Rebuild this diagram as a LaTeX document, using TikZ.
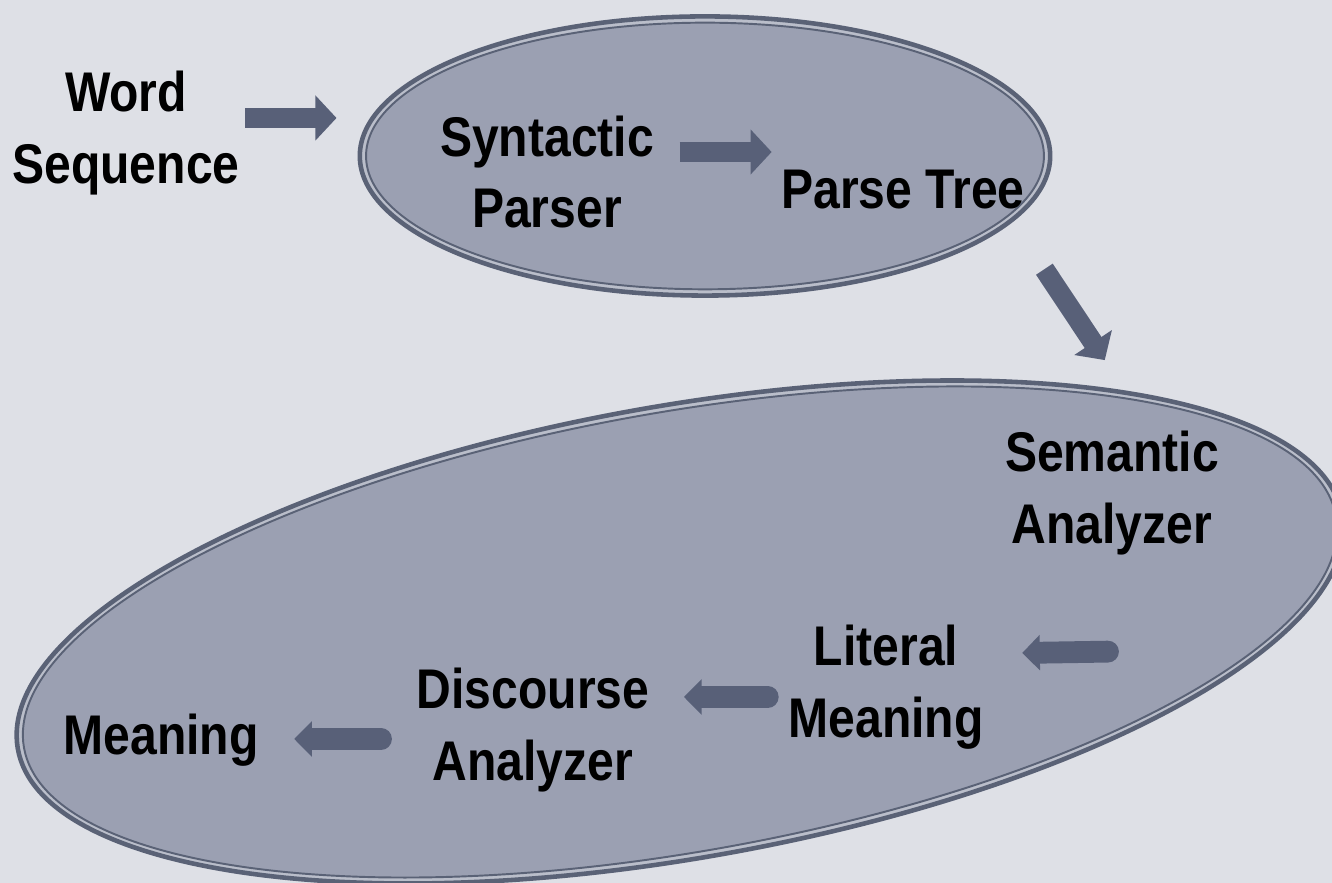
\documentclass[tikz,border=0pt]{standalone}
\usepackage{fontspec}
\setmainfont{Liberation Sans}[FakeStretch=0.86]
\usetikzlibrary{arrows.meta,calc,shapes.geometric}
\definecolor{bgcol}{RGB}{222,224,230}
\definecolor{ovalfill}{RGB}{155,160,178}
\definecolor{ovalgap}{RGB}{186,190,202}
\definecolor{ovaledge}{RGB}{90,98,118}
\definecolor{arrowcol}{RGB}{88,96,120}

\begin{document}
\begin{tikzpicture}[x=0.01cm, y=-0.01cm,
    lbl/.style={font=\bfseries\fontsize{15.9}{20.4}\selectfont, align=center, inner sep=0pt},
    oval/.style={ellipse, fill=ovalgap, draw=ovaledge, line width=1.3pt, inner sep=0pt},
    ovalin/.style={ellipse, fill=ovalfill, draw=ovaledge, line width=0.55pt, inner sep=0pt},
    blk/.style={arrowcol, line width=5.7pt, -{Triangle[length=6pt, width=12.5pt]}},
    blkr/.style={arrowcol, line width=6.2pt, line cap=round, -{Triangle[length=5pt, width=9.8pt]}}]
    % background
    \fill[bgcol] (0,0) rectangle (1332,883);
    \useasboundingbox (0,0) rectangle (1332,883);

    % the two ovals (outer ring + inner ring)
    \node[oval, minimum width=6.9cm, minimum height=2.79cm] (synbox) at (705,156) {};
    \node[ovalin, minimum width=6.775cm, minimum height=2.665cm] at (synbox.center) {};
    \node[oval, minimum width=13.44cm, minimum height=4.52cm, rotate=10] (sembox) at (680,632) {};
    \node[ovalin, minimum width=13.315cm, minimum height=4.395cm, rotate=10] at (sembox.center) {};

    % labels
    \node[lbl] (word) at (126,133) {Word\\Sequence};
    \node[lbl] (syn) at (547,172) {Syntactic\\Parser};
    \node[lbl] (parse) at (903,190) {Parse Tree};
    \node[lbl] (sem) at (1112,493) {Semantic\\Analyzer};
    \node[lbl] (lit) at (886,687) {Literal\\Meaning};
    \node[lbl] (disc) at (533,730) {Discourse\\Analyzer};
    \node[lbl] (mean) at (161,740) {Meaning};

    % block arrows
    \draw[blk] ($(word.east)+(5,-15)$) -- ($(synbox.west)+(-21,-38)$);
    \draw[blk] ($(syn.east)+(25,-20)$) -- ($(parse.west)+(-9,-38)$);
    \draw[blk] ($(parse.south east)+(19,59)$) -- ($(sembox.north east)+(-17,-30)$);
    \draw[blkr] ($(sem.south)+(-4,96)$) -- ($(lit.east)+(38,-34)$);
    \draw[blkr] ($(lit.west)+(-20,10)$) -- ($(disc.east)+(34,-33)$);
    \draw[blkr] ($(disc.west)+(-35,9)$) -- ($(mean.east)+(35,-1)$);
\end{tikzpicture}
\end{document}
